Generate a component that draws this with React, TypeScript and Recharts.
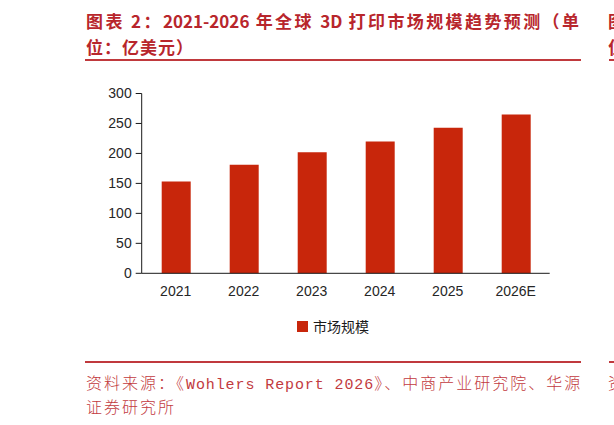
import React from 'react';
import { BarChart, Bar, XAxis, YAxis, Legend } from 'recharts';

const years = ['2021', '2022', '2023', '2024', '2025', '2026E'];
const marketSize = [153, 181, 202, 220, 243, 265];
const yTicks = [0, 50, 100, 150, 200, 250, 300];
const edgeTicks = [0, 1, 2, 3, 4, 5, 6];

const seriesName = '市场规模';
const barColor = '#c8260b';
const titleRed = '#b8262c';
const ruleRed = '#c0393d';
const sourceRed = '#c23a40';

const chartData = years.map((year, i) => ({ year, value: marketSize[i] }));

const cjk = "'Noto Sans CJK SC', 'Noto Sans', sans-serif";
const axisFont = "'Liberation Sans', Arial, sans-serif";

const LegendContent = () => (
  <div style={{ display: 'flex', alignItems: 'center', height: 14 }}>
    <span style={{ width: 11, height: 11, background: barColor, marginRight: 5, display: 'inline-block' }} />
    <span style={{ fontFamily: cjk, fontSize: 14, color: '#1a1a1a', lineHeight: '14px' }}>{seriesName}</span>
  </div>
);

const srcCjk: React.CSSProperties = { fontFamily: cjk, fontWeight: 300, fontSize: 16, letterSpacing: 2 };
const srcMono: React.CSSProperties = { fontFamily: "'Liberation Mono', monospace", fontSize: 15, letterSpacing: 0.9 };

export default function App() {
  return (
    <div style={{ position: 'absolute', left: 0, top: 0, width: 614, height: 425, overflow: 'hidden', background: '#fff' }}>
      {/* title */}
      <div style={{ position: 'absolute', left: 86, top: 8, width: 493, fontFamily: cjk, fontWeight: 700, fontSize: 17, lineHeight: '26px', color: titleRed, whiteSpace: 'nowrap', textAlign: 'justify', textAlignLast: 'justify' }}>
        图表 2：2021-2026 年全球 3D 打印市场规模趋势预测（单
      </div>
      <div style={{ position: 'absolute', left: 86, top: 34, fontFamily: cjk, fontWeight: 700, fontSize: 17, lineHeight: '26px', color: titleRed, letterSpacing: 1, whiteSpace: 'nowrap' }}>
        位：亿美元）
      </div>
      <div style={{ position: 'absolute', left: 85, top: 59, width: 496, height: 2, background: ruleRed }} />

      {/* next column, cut off at the edge as in the page */}
      <div style={{ position: 'absolute', left: 608, top: 8, fontFamily: cjk, fontWeight: 700, fontSize: 17, lineHeight: '26px', color: titleRed, whiteSpace: 'nowrap' }}>图表</div>
      <div style={{ position: 'absolute', left: 608, top: 34, fontFamily: cjk, fontWeight: 700, fontSize: 17, lineHeight: '26px', color: titleRed, whiteSpace: 'nowrap' }}>位</div>
      <div style={{ position: 'absolute', left: 609, top: 59, width: 20, height: 2, background: ruleRed }} />
      <div style={{ position: 'absolute', left: 609, top: 361, width: 20, height: 2, background: ruleRed }} />
      <div style={{ position: 'absolute', left: 608, top: 370, color: sourceRed, lineHeight: '24px', whiteSpace: 'nowrap', ...srcCjk }}>资料</div>

      <BarChart
        width={614}
        height={425}
        data={chartData}
        margin={{ top: 93.5, right: 64.3, left: 81.7, bottom: 121.7 }}
        style={{ position: 'absolute', left: 0, top: 0 }}
      >
        <XAxis
          xAxisId="edge"
          type="number"
          domain={[0, 6]}
          ticks={edgeTicks}
          interval={0}
          allowDataOverflow
          tick={false}
          axisLine={false}
          tickLine={{ stroke: '#1a1a1a' }}
          tickSize={6}
          height={0}
        />
        <XAxis
          xAxisId="cat"
          dataKey="year"
          interval={0}
          axisLine={{ stroke: '#1a1a1a' }}
          tickLine={false}
          tickSize={6}
          tickMargin={7}
          height={30}
          tick={{ fontSize: 14, fill: '#262626', fontFamily: axisFont }}
        />
        <YAxis
          domain={[0, 300]}
          ticks={yTicks}
          interval={0}
          width={60}
          axisLine={{ stroke: '#1a1a1a' }}
          tickLine={{ stroke: '#1a1a1a' }}
          tickSize={6}
          tickMargin={4}
          tick={{ fontSize: 14, fill: '#262626', fontFamily: axisFont }}
        />
        <Legend
          layout="horizontal"
          verticalAlign="middle"
          align="center"
          content={<LegendContent />}
          wrapperStyle={{ left: 297, top: 319, width: 'auto' }}
        />
        <Bar xAxisId="cat" dataKey="value" name={seriesName} fill={barColor} barSize={29} isAnimationActive={false} />
      </BarChart>

      <div style={{ position: 'absolute', left: 85, top: 361, width: 496, height: 2, background: ruleRed }} />

      {/* source */}
      <div style={{ position: 'absolute', left: 86, top: 370, color: sourceRed, lineHeight: '24px', whiteSpace: 'nowrap' }}>
        <span style={srcCjk}>资料来源：《</span>
        <span style={srcMono}>Wohlers Report 2026</span>
        <span style={srcCjk}>》、中商产业研究院、华源</span>
      </div>
      <div style={{ position: 'absolute', left: 86, top: 394, color: sourceRed, lineHeight: '24px', whiteSpace: 'nowrap' }}>
        <span style={srcCjk}>证券研究所</span>
      </div>
    </div>
  );
}
